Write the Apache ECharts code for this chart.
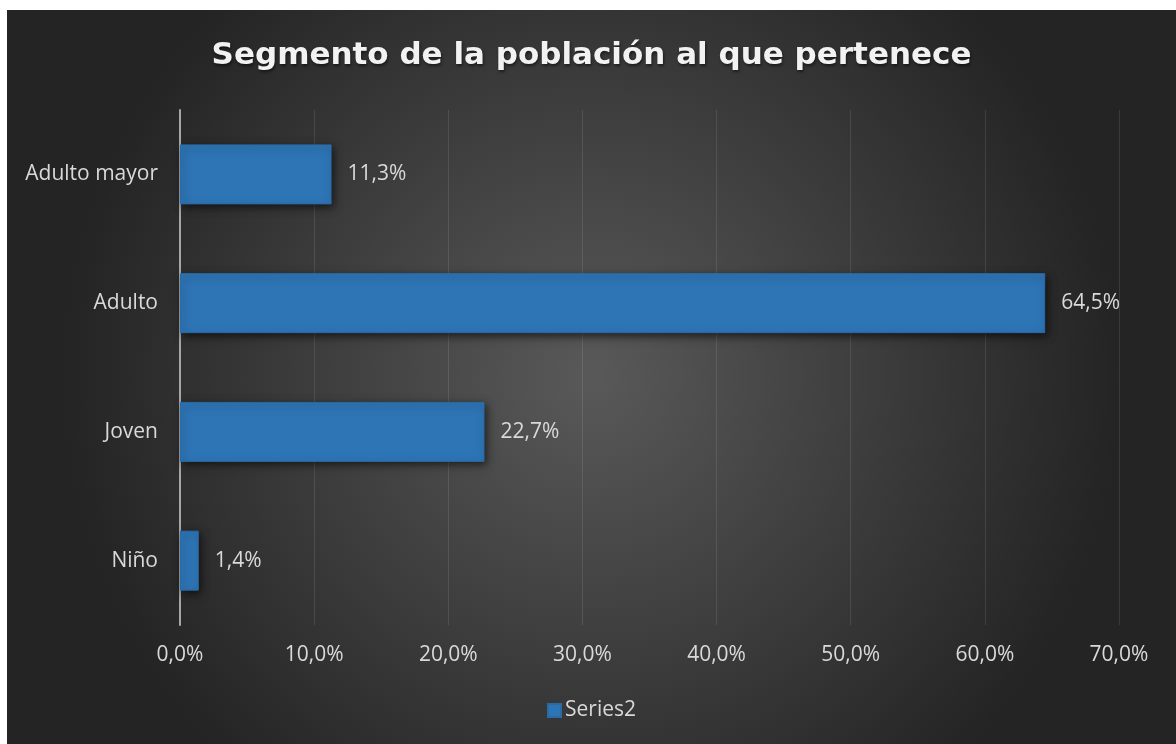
<!DOCTYPE html>
<html><head><meta charset="utf-8">
<script src="https://cdn.jsdelivr.net/npm/echarts@6/dist/echarts.min.js"></script>
<style>
html,body{margin:0;padding:0;background:#fff;}
#c{position:absolute;left:7px;top:10px;width:1169px;height:734px;}
</style></head>
<body><div id="c"></div>
<script>
const categories = ['Niño', 'Joven', 'Adulto', 'Adulto mayor'];
const values = [1.4, 22.7, 64.5, 11.3];
const seriesName = 'Series2';
const titleText = 'Segmento de la población al que pertenece';

const fmt = v => v.toFixed(1).replace('.', ',') + '%';
const chart = echarts.init(document.getElementById('c'));
chart.setOption({
  backgroundColor: {
    type: 'radial', x: 0.5, y: 0.5, r: 0.72,
    colorStops: [{offset: 0, color: '#595959'}, {offset: 1, color: '#242424'}]
  },
  title: {
    text: titleText, left: 'center', top: 25,
    textStyle: {color: '#f2f2f2', fontSize: 31, fontWeight: 'bold', fontFamily: 'DejaVu Sans',
      textShadowColor: 'rgba(0,0,0,0.5)', textShadowBlur: 3, textShadowOffsetX: 1, textShadowOffsetY: 2}
  },
  legend: {
    bottom: 18, left: 'center', itemWidth: 13, itemHeight: 13, itemGap: 4,
    icon: 'rect',
    textStyle: {color: '#d9d9d9', fontSize: 21, fontFamily: 'Open Sans', padding: [0,0,0,-1]}
  },
  grid: {left: 173, right: 57, top: 100, bottom: 119, containLabel: false},
  xAxis: {
    type: 'value', min: 0, max: 70, interval: 10,
    axisLine: {show: false}, axisTick: {show: false},
    axisLabel: {color: '#d9d9d9', fontSize: 21, fontFamily: 'Open Sans', margin: 20, formatter: v => fmt(v)},
    splitLine: {show: true, lineStyle: {color: 'rgba(255,255,255,0.1)', width: 1}}
  },
  yAxis: {
    type: 'category', data: categories,
    axisLine: {show: true, lineStyle: {color: '#a6a6a6', width: 2}},
    axisTick: {show: false},
    axisLabel: {color: '#d9d9d9', fontSize: 21, fontFamily: 'Open Sans', margin: 22}
  },
  series: [{
    name: seriesName, type: 'bar', data: values, barWidth: 60,
    itemStyle: {color: '#2e75b6', borderColor: '#2a6aa6', borderWidth: 1,
      shadowColor: 'rgba(0,0,0,0.6)', shadowBlur: 8, shadowOffsetX: 2, shadowOffsetY: 3},
    label: {show: true, position: 'right', distance: 16, color: '#d9d9d9', fontSize: 21, fontFamily: 'Open Sans', formatter: p => fmt(p.value)}
  }]
});
</script></body></html>
